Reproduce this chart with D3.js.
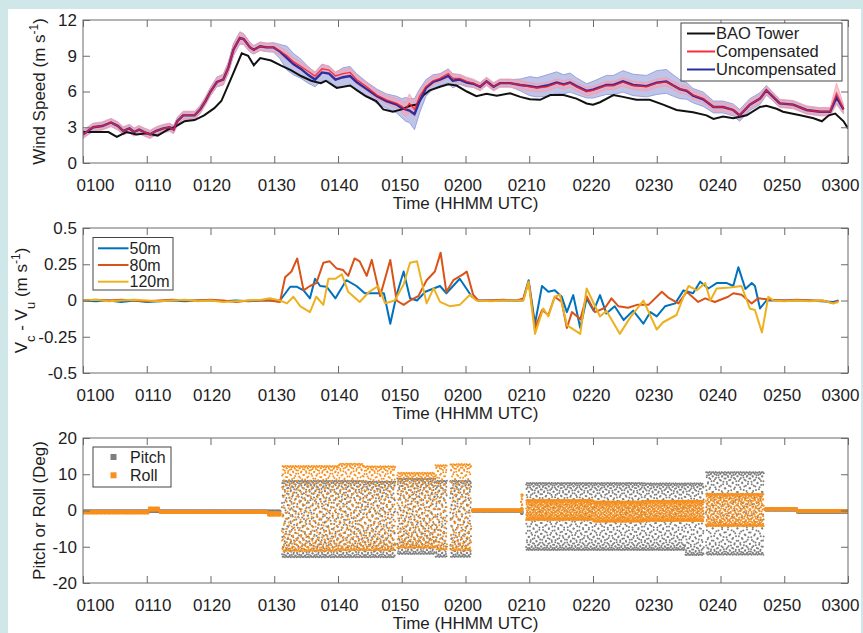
<!DOCTYPE html>
<html>
<head>
<meta charset="utf-8">
<script src="https://cdn.jsdelivr.net/npm/d3@7"></script>
<style>
  html, body { margin: 0; padding: 0; background: #cfe7e8; }
  svg { display: block; font-family: "Liberation Sans", Arial, Helvetica, sans-serif; }
</style>
</head>
<body>
<svg id="chart" width="863" height="633"></svg>
<script>
// ---------- time axis (minutes after 01:00 UTC) ----------
const tickMinutes = [0, 10, 20, 30, 40, 50, 60, 70, 80, 90, 100, 110, 120];
const tickLabels = ["0100", "0110", "0120", "0130", "0140", "0150", "0200",
                    "0210", "0220", "0230", "0240", "0250", "0300"];

// ---------- panel 1: wind speed ----------
const towerTime = [0,2,4,5.3,6.8,8.4,10,11.7,13.3,14.3,
  15.9,17.5,19,20.6,21.7,23,24.9,25.9,26.8,27.8,
  29.5,31,32.6,34.2,35.8,37.3,38.1,39.8,41.9,43,
  44.4,46,47.1,48.6,50,51.3,52.4,53.4,54.4,56,
  57.3,58.6,60.2,61.7,63.3,64.9,67,68.6,70.1,71.7,
  73.3,75.4,77.4,79,80,81.1,83.2,84.7,86.8,88.9,
  91,93.1,95.7,97.8,98.9,100.4,102,104.1,106.2,107.2,
  108.8,109.8,112.5,114.6,115.9,117,118,119.3,120];
const towerSpeed = [2.6,2.6,2.6,2.2,2.6,2.4,2.5,2.3,2.8,3.0,
  3.5,3.6,4.0,4.6,5.2,6.8,9.2,9.0,8.2,8.8,
  8.6,8.2,7.8,7.3,6.9,6.7,6.9,6.3,6.5,6.1,
  5.6,5.2,4.5,4.3,4.5,4.8,4.9,5.7,6.1,6.4,
  6.6,6.5,6.0,5.6,5.8,5.65,5.85,5.55,5.35,5.3,
  5.7,5.7,5.4,5.0,4.9,5.1,5.7,5.55,5.3,5.3,
  4.9,4.45,4.25,4.0,3.7,3.9,3.75,4.0,4.7,4.8,
  4.55,4.3,4.0,3.75,3.5,4.0,4.15,3.5,2.9];

const lidarTime = [0,1.6,3,4.4,5.5,6.3,7.3,8,8.8,9.6,
  10.5,11.5,12.6,13.6,14.2,14.8,15.7,17.5,18.4,19.2,
  20,21,22,22.8,23.6,24.6,25.2,26.2,26.8,27.8,
  28.8,29.9,30.9,32,33,34.2,35.3,36.4,37.5,38.6,
  39.6,40.8,41.9,42.9,44.5,46.1,47.6,49.2,50,50.6,
  51.2,52,52.8,53.8,54.9,56,57.3,58,59.1,60.2,
  61.2,62.3,63.3,64.4,65.4,67,68.6,70.1,71.2,72.8,
  74.3,75.4,76.4,77.4,79,80,82.1,83.2,84.7,86.3,
  88.4,90,91.5,92.6,93.6,94.7,95.7,97.3,98.9,100.4,
  102,103,104.6,106.2,107.2,109.3,111.4,113.5,115.6,117.2,
  118.2,119.3];
const compSpeed = [2.4,3.0,3.1,3.4,3.1,2.7,2.9,2.6,2.8,2.6,
  2.4,2.7,2.9,3.0,2.8,3.5,4.0,4.0,4.5,5.2,
  6.0,6.8,7.0,8.0,9.5,10.5,10.4,9.7,9.5,9.8,
  9.7,9.7,9.4,9.0,8.5,8.1,7.7,7.3,7.9,7.8,
  7.3,7.5,7.6,7.0,6.4,5.7,5.3,5.0,4.75,4.5,
  5.0,4.5,5.6,6.4,6.9,7.1,7.5,7.1,7.1,6.85,
  6.7,6.4,6.85,6.4,6.7,6.7,6.55,6.4,6.3,6.4,
  6.7,6.55,6.7,6.4,6.0,6.1,6.5,6.5,6.8,6.5,
  6.4,6.7,6.8,6.5,6.2,6.1,5.7,5.4,4.7,4.7,
  4.45,4.0,4.9,5.4,6.1,5.0,4.9,4.45,4.3,4.3,
  5.8,4.5];
const uncompSpeed = [2.4,3.0,3.1,3.4,3.1,2.7,2.9,2.6,2.8,2.6,
  2.4,2.7,2.9,3.0,2.8,3.5,4.0,4.0,4.5,5.2,
  6.0,6.8,7.0,8.0,9.5,10.5,10.4,9.7,9.5,9.8,
  9.7,9.7,9.35,8.8,8.3,7.9,7.4,7.0,7.6,7.5,
  7.0,7.2,7.3,6.8,6.2,5.6,5.2,4.9,4.6,4.5,
  4.4,4.1,5.2,6.3,6.8,7.0,7.3,6.9,7.0,6.75,
  6.65,6.4,6.85,6.4,6.7,6.7,6.55,6.45,6.35,6.5,
  6.75,6.6,6.75,6.45,6.05,6.15,6.55,6.55,6.85,6.55,
  6.45,6.75,6.85,6.5,6.2,6.05,5.65,5.35,4.7,4.7,
  4.45,4.0,4.9,5.4,6.1,5.0,4.9,4.45,4.3,4.3,
  5.5,4.5];
// half-width of the shaded spread around each lidar series
const compSpread = [0.35,0.35,0.35,0.35,0.35,0.35,0.35,0.35,0.35,0.35,
  0.35,0.35,0.35,0.35,0.35,0.35,0.35,0.35,0.35,0.35,
  0.35,0.4,0.45,0.45,0.5,0.5,0.45,0.4,0.35,0.35,
  0.35,0.35,0.35,0.35,0.35,0.35,0.35,0.35,0.35,0.35,
  0.35,0.35,0.35,0.35,0.35,0.35,0.35,0.4,0.5,0.6,
  0.8,0.6,0.45,0.35,0.35,0.35,0.35,0.35,0.35,0.35,
  0.35,0.35,0.35,0.35,0.35,0.35,0.35,0.35,0.35,0.35,
  0.35,0.35,0.35,0.35,0.35,0.35,0.35,0.35,0.35,0.35,
  0.35,0.35,0.35,0.35,0.35,0.35,0.35,0.35,0.35,0.35,
  0.35,0.35,0.35,0.35,0.35,0.35,0.35,0.35,0.35,0.35,
  0.9,0.4];
const uncompSpread = [0.3,0.3,0.3,0.3,0.3,0.3,0.3,0.3,0.3,0.3,
  0.3,0.3,0.3,0.3,0.3,0.3,0.3,0.3,0.3,0.3,
  0.35,0.4,0.45,0.45,0.5,0.5,0.45,0.4,0.35,0.35,
  0.35,0.4,0.6,1.0,0.9,0.8,0.7,0.6,0.7,0.6,
  0.6,0.8,0.8,0.7,0.6,0.6,0.6,0.7,0.8,1.0,
  1.0,1.3,1.0,0.7,0.6,0.5,0.6,0.6,0.4,0.35,
  0.3,0.3,0.3,0.3,0.3,0.3,0.5,0.8,0.8,0.9,
  0.9,0.8,0.8,0.7,0.6,0.7,0.8,0.8,0.9,0.9,
  0.9,1.0,1.0,0.9,0.8,0.7,0.6,0.6,0.5,0.5,
  0.5,0.5,0.5,0.5,0.4,0.3,0.3,0.3,0.3,0.3,
  0.5,0.3];

// ---------- panel 2: compensated minus uncompensated ----------
const diff50Time = [0,2,4,6,8,10,12,14,16,18,
  20,22,24,26,28,29.3,30.9,32.5,33.5,34.6,
  35.6,36.4,37.2,38.2,39.6,41.3,42.9,44.2,46.1,47.2,
  48.2,49.2,50.3,51.3,52.4,53.7,56,57,59.1,61,
  62,64,66,68,69,69.9,70.9,72,73,74,
  75.1,75.9,76.9,78,79,80.1,81.1,82.1,83.4,84.8,
  86.3,87.9,89,90,91.3,92.9,94.2,95.7,96.8,98.1,
  99.4,101,102,102.8,103.9,104.9,105.4,106.2,107.2,
  110,114,117.7,118.5];
const diff50 = [0,-0.005,0,-0.01,0,-0.01,-0.005,0,-0.005,0,
  0,-0.005,0,-0.005,0,0,0,0.095,0.095,0.07,
  0.015,0.15,0.1,0.095,0.015,0.14,0.1,0.05,0.05,0.05,
  -0.16,0.04,0.2,0.015,0,0.06,0.1,0.05,0.15,0.026,
  0,0,0,0,0,0.14,-0.16,0.1,0.06,0.07,
  0.026,-0.08,0.037,-0.19,0.014,-0.07,0.037,-0.09,-0.04,-0.135,
  -0.07,-0.16,-0.08,-0.11,-0.04,-0.02,0.07,0.05,0.13,0.083,
  0.12,0.12,0.1,0.23,0.08,0.12,0.1,-0.055,0,
  0,0,-0.01,0];

const diff80Time = [0,2,4,6,8,10,12,14,16,18,
  20,22,24,26,28,29.3,30.9,31.7,32.7,33.6,
  34.6,35.6,36.6,37.7,38.7,39.8,40.8,41.6,42.6,43.4,
  44.5,45.3,46.6,48.2,49.2,50.3,51.3,52.6,53.9,55.2,
  56.1,57,58.1,59.6,60.2,61.2,62,64,66,68,
  69.1,69.9,70.9,72,73,74,75.1,75.9,76.7,78,
  79,80.3,81.9,82.9,84,85.5,86.9,88.7,90.8,91.8,
  93.4,94.7,96.5,97.6,99.1,101.2,102,103.3,104.9,105.9,
  108,110,112,114,116,117.7,118.5];
const diff80 = [0,0.005,0,0.005,0,-0.005,0,0.005,0,0,
  0.005,0,-0.01,0,0,0,-0.01,0.16,0.2,0.29,
  0.07,0.1,0.12,0.26,0.27,0.22,0.21,0.17,0.29,0.27,
  0.17,0.28,0.03,0.28,0,-0.03,0,0.03,0.14,0.2,
  0.33,0.06,0.14,0.18,0.2,0.04,0,0,0.005,0,
  0.014,0.13,-0.19,-0.066,-0.1,0.026,-0.01,-0.19,-0.08,-0.13,
  0.03,-0.08,-0.05,0.015,-0.04,-0.05,-0.03,-0.03,0.06,0.02,
  -0.02,0.06,-0.01,0.015,-0.01,0.026,0.05,0.04,-0.02,0.015,
  0.005,0,0.005,0,0,-0.02,0];

const diff120Time = [0,2,4,6,8,10,12,14,16,18,
  20,22,24,26,28,29.3,30.9,32,33,34.1,
  35.6,36.6,37.7,38.5,39.6,40.6,41.6,43.4,44.9,46.3,
  47.4,48.9,50.3,51.3,52.4,53.9,55,56,57.6,59.1,
  60.7,61.7,64,66,68,69.1,69.9,70.9,72.2,73,
  74,74.8,75.9,78,79,81.1,82.1,84.2,85.8,87.9,
  90,91,93.1,94.2,95,96.3,97.6,98.4,99.4,101.5,
  103.3,104.6,105.4,106.5,107.5,108.3,110,112,114,116,117.7,118.5];
const diff120 = [0,0.005,-0.005,0,0.005,0,-0.005,0,0.005,-0.005,
  0,-0.01,-0.005,0,0.005,0.015,0,-0.02,0.026,-0.04,
  -0.08,0.026,-0.03,0.15,0.15,0.18,0.06,-0.01,0.06,0.1,
  -0.02,0,0.11,0.26,0.27,-0.02,0.085,-0.01,-0.04,-0.03,
  0.04,0,-0.005,0,0,0,0.13,-0.23,-0.055,-0.11,
  0.026,0.04,-0.17,-0.23,0.083,-0.11,-0.07,-0.23,-0.12,0,
  -0.2,-0.15,-0.1,0.026,0.1,0.07,0.12,0,0.083,0.09,
  0.1,-0.055,-0.066,-0.22,0.026,0,-0.005,0,-0.005,0,-0.02,-0.01];

// ---------- panel 3: platform attitude ----------
// Each span: start/end minute and the lower/upper extent of the pitch and roll swing.
const spanStart = [0, 10.3, 12, 29, 31.2, 40, 44, 49.3, 55.3, 57.6, 61, 68.7, 69.5, 80, 88, 94.4, 97.7, 107, 112];
const spanEnd   = [10.3, 12, 29, 31, 40, 44, 49, 55.3, 57.1, 60.9, 68.7, 69.0, 80, 88, 94.4, 97.4, 106.8, 112, 120];
const pitchLow  = [-0.5, -0.4, -0.5, -1.0, -12.9, -12.9, -12.9, -12.0, -12.8, -12.8, -0.3, -1.0, -10.9, -10.9, -10.9, -12.3, -12.2, 0.0, -0.6];
const pitchHigh = [0.0, 0.2, 0.0, 0.0, 8.2, 8.2, 8.0, 8.8, 8.2, 8.2, 0.2, 0.5, 7.6, 7.6, 7.5, 7.5, 10.6, 0.5, 0.0];
const rollLow   = [-0.8, 0.0, -0.7, -1.4, -11.2, -11.0, -11.0, -10.3, -10.8, -11.0, -0.2, -0.5, -2.6, -3.1, -2.9, -2.9, -4.3, 0.1, -0.4];
const rollHigh  = [-0.1, 0.8, -0.1, -0.5, 12.3, 12.9, 12.2, 10.4, 12.5, 12.8, 0.3, 4.5, 2.9, 2.5, 2.7, 2.7, 4.6, 0.7, 0.1];
// oscillation periods of the platform motion, in samples (1 s sampling)
const pitchPeriodSec = 2.618;
const rollPeriodSec = 3.618;

// ---------- layout ----------
const svg = d3.select("#chart");
svg.append("rect").attr("x", 0).attr("y", 0).attr("width", 863).attr("height", 633).attr("fill", "#cfe7e8");
svg.append("rect").attr("x", 8).attr("y", 9).attr("width", 853).attr("height", 624).attr("fill", "#ffffff");

const x = d3.scaleLinear().domain([0, 120]).range([83, 848]);
// horizontal nudge of each time label so the end labels stay inside the figure
const labelNudge = [12, 6, 1, 2, 1, -2, -3, -3, -2, -3, -3, -2.5, -8];
const axisColor = "#6b6b6b";
const textColor = "#1e1e1e";
const fontSize = 17;

function panel(top, bottom, domain, ticks, fmt) {
  const y = d3.scaleLinear().domain(domain).range([bottom, top]);
  const g = svg.append("g");
  const plot = g.append("g");
  const clipId = "clip" + top;
  svg.append("clipPath").attr("id", clipId).append("rect")
    .attr("x", x.range()[0]).attr("y", top).attr("width", x.range()[1] - x.range()[0]).attr("height", bottom - top);
  plot.attr("clip-path", `url(#${clipId})`);

  const ax = g.append("g").attr("class", "axes");
  const xb = d3.axisBottom(x).tickValues(tickMinutes).tickFormat((d, i) => tickLabels[i])
    .tickSizeInner(-7).tickSizeOuter(0).tickPadding(16);
  const xt = d3.axisTop(x).tickValues(tickMinutes).tickFormat("").tickSizeInner(-7).tickSizeOuter(0);
  const yl = d3.axisLeft(y).tickValues(ticks).tickFormat(fmt).tickSizeInner(-7).tickSizeOuter(0).tickPadding(6);
  const yr = d3.axisRight(y).tickValues(ticks).tickFormat("").tickSizeInner(-7).tickSizeOuter(0);
  const gxb = ax.append("g").attr("transform", `translate(0,${bottom})`).call(xb);
  gxb.selectAll(".tick text").attr("dx", (d, i) => labelNudge[i]);
  ax.append("g").attr("transform", `translate(0,${top})`).call(xt);
  ax.append("g").attr("transform", `translate(${x.range()[0]},0)`).call(yl);
  ax.append("g").attr("transform", `translate(${x.range()[1]},0)`).call(yr);
  ax.selectAll(".domain").remove();
  ax.selectAll(".tick line").attr("stroke", axisColor).attr("stroke-width", 1);
  ax.selectAll(".tick text").attr("fill", textColor).attr("font-size", fontSize)
    .attr("font-family", '"Liberation Sans", Arial, Helvetica, sans-serif');
  ax.append("rect").attr("x", x.range()[0]).attr("y", top)
    .attr("width", x.range()[1] - x.range()[0]).attr("height", bottom - top)
    .attr("fill", "none").attr("stroke", axisColor).attr("stroke-width", 1);

  g.append("text").attr("x", (x.range()[0] + x.range()[1]) / 2).attr("y", bottom + 46)
    .attr("text-anchor", "middle").attr("font-size", fontSize).attr("fill", textColor)
    .text("Time (HHMM UTC)");
  return { y, plot, g, ax };
}

// ---------- panel 1 ----------
const p1 = panel(20, 163, [0, 12], [0, 3, 6, 9, 12], d => String(d));
const tower = towerTime.map((t, i) => ({ t, v: towerSpeed[i] }));
const lidar = lidarTime.map((t, i) => ({
  t, c: compSpeed[i], u: uncompSpeed[i], sc: compSpread[i], su: uncompSpread[i]
}));

p1.plot.append("path").datum(lidar)
  .attr("d", d3.area().x(d => x(d.t)).y0(d => p1.y(d.u - d.su)).y1(d => p1.y(d.u + d.su)))
  .attr("fill", "#aab0e2").attr("fill-opacity", 0.75).attr("stroke", "#8c93d6").attr("stroke-width", 0.8);
p1.plot.append("path").datum(lidar)
  .attr("d", d3.area().x(d => x(d.t)).y0(d => p1.y(d.c - d.sc)).y1(d => p1.y(d.c + d.sc)))
  .attr("fill", "#f5a3b0").attr("fill-opacity", 0.6).attr("stroke", "#f4a0ae").attr("stroke-width", 0.8);
p1.plot.append("path").datum(tower)
  .attr("d", d3.line().x(d => x(d.t)).y(d => p1.y(d.v)))
  .attr("fill", "none").attr("stroke", "#111").attr("stroke-width", 2);
p1.plot.append("path").datum(lidar)
  .attr("d", d3.line().x(d => x(d.t)).y(d => p1.y(d.u)))
  .attr("fill", "none").attr("stroke", "#2d2d9c").attr("stroke-width", 2.4);
p1.plot.append("path").datum(lidar)
  .attr("d", d3.line().x(d => x(d.t)).y(d => p1.y(d.c)))
  .attr("fill", "none").attr("stroke", "#ff1a2a").attr("stroke-width", 1.4).attr("stroke-opacity", 0.85);

// rotated axis title, with optional super/subscript pieces
function yTitle(g, cx, cy, parts) {
  const t = g.append("text").attr("transform", `translate(${cx},${cy}) rotate(-90)`)
    .attr("text-anchor", "middle").attr("font-size", fontSize).attr("fill", textColor);
  parts.forEach(p => {
    const s = t.append("tspan").text(p.text);
    if (p.sup) s.attr("baseline-shift", "super").attr("font-size", 12);
    if (p.sub) s.attr("baseline-shift", "sub").attr("font-size", 13);
  });
}
yTitle(p1.g, 45, 91.5, [{ text: "Wind Speed  (m s" }, { text: "-1", sup: true }, { text: ")" }]);

// legend 1
const lg1 = p1.g.append("g");
lg1.append("rect").attr("x", 681).attr("y", 23).attr("width", 161).attr("height", 58)
  .attr("fill", "#fff").attr("stroke", "#444").attr("stroke-width", 1);
const lg1Items = [["BAO Tower", "#111"], ["Compensated", "#ff2a3a"], ["Uncompensated", "#2d2d9c"]];
lg1Items.forEach(([name, col], i) => {
  const yy = 33.5 + i * 18;
  lg1.append("line").attr("x1", 687).attr("x2", 715).attr("y1", yy).attr("y2", yy)
    .attr("stroke", col).attr("stroke-width", 2);
  lg1.append("text").attr("x", 716).attr("y", yy).attr("dy", "0.35em")
    .attr("font-size", 16.5).attr("fill", textColor).text(name);
});

// ---------- panel 2 ----------
const p2 = panel(228, 373, [-0.5, 0.5], [-0.5, -0.25, 0, 0.25, 0.5], d => String(d));
const diffSeries = [
  { name: "50m", color: "#0072bd", data: diff50Time.map((t, i) => ({ t, v: diff50[i] })) },
  { name: "80m", color: "#d95319", data: diff80Time.map((t, i) => ({ t, v: diff80[i] })) },
  { name: "120m", color: "#edb120", data: diff120Time.map((t, i) => ({ t, v: diff120[i] })) }
];
diffSeries.forEach(s => {
  p2.plot.append("path").datum(s.data)
    .attr("d", d3.line().x(d => x(d.t)).y(d => p2.y(d.v)))
    .attr("fill", "none").attr("stroke", s.color).attr("stroke-width", 2).attr("stroke-linejoin", "round");
});
yTitle(p2.g, 27, 300.5, [{ text: "V" }, { text: "c", sub: true }, { text: " - V" }, { text: "u", sub: true },
  { text: " (m s" }, { text: "-1", sup: true }, { text: ")" }]);

const lg2 = p2.g.append("g");
lg2.append("rect").attr("x", 93).attr("y", 237.5).attr("width", 80).attr("height", 52.5)
  .attr("fill", "#fff").attr("stroke", "#444").attr("stroke-width", 1);
diffSeries.forEach((s, i) => {
  const yy = 248.3 + i * 16.7;
  lg2.append("line").attr("x1", 98).attr("x2", 128.5).attr("y1", yy).attr("y2", yy)
    .attr("stroke", s.color).attr("stroke-width", 2);
  lg2.append("text").attr("x", 129.5).attr("y", yy).attr("dy", "0.35em")
    .attr("font-size", 16).attr("fill", textColor).text(s.name);
});

// ---------- panel 3 ----------
const p3 = panel(438, 583, [-20, 20], [-20, -10, 0, 10, 20], d => String(d));
const pitchPts = [], rollPts = [];
spanStart.forEach((t0, i) => {
  const t1 = spanEnd[i];
  const k0 = Math.round(t0 * 60), k1 = Math.round(t1 * 60);
  const pm = (pitchLow[i] + pitchHigh[i]) / 2, pa = (pitchHigh[i] - pitchLow[i]) / 2;
  const rm = (rollLow[i] + rollHigh[i]) / 2, ra = (rollHigh[i] - rollLow[i]) / 2;
  for (let k = k0; k < k1; k++) {
    pitchPts.push({ t: k / 60, v: pm + pa * Math.sin(2 * Math.PI * k / pitchPeriodSec) });
    rollPts.push({ t: k / 60, v: rm + ra * Math.sin(2 * Math.PI * k / rollPeriodSec + 1.1) });
  }
});
p3.plot.append("g").selectAll("circle").data(pitchPts).join("circle")
  .attr("cx", d => x(d.t)).attr("cy", d => p3.y(d.v)).attr("r", 1.0).attr("fill", "#7f7f7f");
p3.plot.append("g").selectAll("circle").data(rollPts).join("circle")
  .attr("cx", d => x(d.t)).attr("cy", d => p3.y(d.v)).attr("r", 1.0).attr("fill", "#f7901e");

yTitle(p3.g, 45, 510.5, [{ text: "Pitch or Roll (Deg)" }]);

const lg3 = p3.g.append("g");
lg3.append("rect").attr("x", 93).attr("y", 447).attr("width", 78).attr("height", 40)
  .attr("fill", "#fff").attr("stroke", "#444").attr("stroke-width", 1);
[["Pitch", "#7f7f7f"], ["Roll", "#f7901e"]].forEach(([name, col], i) => {
  const yy = 457 + i * 18.3;
  lg3.append("rect").attr("x", 110.5).attr("y", yy - 3).attr("width", 6).attr("height", 6).attr("fill", col);
  lg3.append("text").attr("x", 130).attr("y", yy).attr("dy", "0.35em")
    .attr("font-size", 16).attr("fill", textColor).text(name);
});
</script>
</body>
</html>
